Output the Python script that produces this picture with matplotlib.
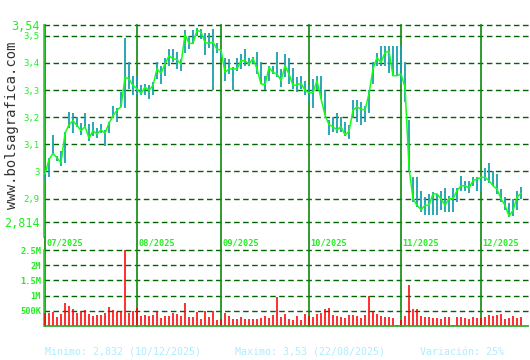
import numpy as np
import pandas as pd
import matplotlib
matplotlib.use('Agg')
import matplotlib.pyplot as plt

# daily data, 01/07/2025 .. 15/12/2025
closes = [2.990, 3.044, 3.066, 3.050, 3.032, 3.140, 3.172, 3.187, 3.169, 3.150,
          3.165, 3.123, 3.150, 3.138, 3.153, 3.141, 3.178, 3.205, 3.226, 3.238,
          3.347, 3.341, 3.317, 3.305, 3.287, 3.311, 3.299, 3.317, 3.378, 3.362,
          3.396, 3.426, 3.416, 3.412, 3.396, 3.505, 3.472, 3.472, 3.520, 3.515,
          3.475, 3.472, 3.477, 3.450, 3.448, 3.365, 3.378, 3.378, 3.378, 3.408,
          3.408, 3.396, 3.416, 3.378, 3.323, 3.319, 3.384, 3.365, 3.359, 3.335,
          3.390, 3.359, 3.317, 3.319, 3.325, 3.299, 3.290, 3.290, 3.335, 3.268,
          3.208, 3.172, 3.165, 3.153, 3.165, 3.135, 3.147, 3.226, 3.238, 3.230,
          3.226, 3.287, 3.378, 3.420, 3.402, 3.438, 3.444, 3.353, 3.353, 3.359,
          3.311, 3.014, 2.899, 2.875, 2.859, 2.875, 2.875, 2.917, 2.917, 2.899,
          2.875, 2.899, 2.899, 2.929, 2.947, 2.947, 2.939, 2.966, 2.972, 2.978,
          2.978, 2.966, 2.947, 2.935, 2.899, 2.875, 2.835, 2.856, 2.905, 2.919]
highs = [3.002, 3.050, 3.135, 3.056, 3.075, 3.147, 3.220, 3.214, 3.202, 3.180,
         3.214, 3.174, 3.184, 3.159, 3.174, 3.153, 3.184, 3.242, 3.232, 3.293,
         3.493, 3.402, 3.353, 3.353, 3.317, 3.323, 3.317, 3.329, 3.402, 3.390,
         3.420, 3.453, 3.453, 3.442, 3.414, 3.520, 3.499, 3.523, 3.530, 3.525,
         3.511, 3.511, 3.525, 3.475, 3.450, 3.420, 3.414, 3.384, 3.420, 3.432,
         3.453, 3.420, 3.423, 3.442, 3.402, 3.353, 3.390, 3.390, 3.442, 3.378,
         3.432, 3.420, 3.380, 3.347, 3.351, 3.335, 3.317, 3.341, 3.351, 3.351,
         3.299, 3.190, 3.202, 3.214, 3.199, 3.184, 3.172, 3.262, 3.262, 3.256,
         3.242, 3.299, 3.402, 3.438, 3.462, 3.462, 3.462, 3.462, 3.462, 3.462,
         3.402, 3.190, 2.978, 2.978, 2.927, 2.905, 2.917, 2.923, 2.917, 2.927,
         2.939, 2.911, 2.939, 2.939, 2.984, 2.963, 2.966, 2.978, 2.981, 2.980,
         3.014, 3.032, 3.002, 2.992, 2.935, 2.905, 2.883, 2.899, 2.927, 2.942]
lows = [2.972, 2.980, 3.062, 3.038, 3.020, 3.030, 3.159, 3.141, 3.165, 3.135,
        3.159, 3.111, 3.129, 3.123, 3.141, 3.093, 3.141, 3.196, 3.184, 3.238,
        3.232, 3.305, 3.281, 3.281, 3.281, 3.281, 3.268, 3.281, 3.341, 3.323,
        3.353, 3.390, 3.402, 3.378, 3.372, 3.438, 3.450, 3.468, 3.499, 3.487,
        3.429, 3.456, 3.301, 3.438, 3.420, 3.335, 3.359, 3.299, 3.372, 3.378,
        3.390, 3.390, 3.396, 3.359, 3.323, 3.301, 3.335, 3.359, 3.347, 3.311,
        3.347, 3.323, 3.305, 3.293, 3.305, 3.281, 3.256, 3.232, 3.299, 3.268,
        3.208, 3.133, 3.147, 3.141, 3.147, 3.129, 3.121, 3.196, 3.184, 3.172,
        3.181, 3.214, 3.323, 3.390, 3.390, 3.390, 3.363, 3.353, 3.350, 3.323,
        3.256, 3.002, 2.887, 2.869, 2.850, 2.838, 2.838, 2.838, 2.838, 2.856,
        2.850, 2.850, 2.850, 2.887, 2.929, 2.929, 2.919, 2.947, 2.929, 2.923,
        2.966, 2.957, 2.947, 2.917, 2.887, 2.856, 2.832, 2.835, 2.856, 2.899]
# volume in millions
volumes = [0.44, 0.44, 0.47, 0.30, 0.39, 0.76, 0.66, 0.56, 0.44, 0.49,
           0.52, 0.39, 0.34, 0.36, 0.36, 0.44, 0.63, 0.52, 0.47, 0.49,
           2.50, 0.44, 0.49, 0.58, 0.34, 0.36, 0.34, 0.36, 0.49, 0.26,
           0.34, 0.34, 0.44, 0.39, 0.34, 0.76, 0.30, 0.30, 0.46, 0.23,
           0.49, 0.30, 0.49, 0.20, 0.23, 0.44, 0.34, 0.23, 0.23, 0.30,
           0.23, 0.23, 0.23, 0.23, 0.27, 0.33, 0.26, 0.36, 0.95, 0.30,
           0.39, 0.23, 0.20, 0.33, 0.20, 0.39, 0.33, 0.30, 0.39, 0.43,
           0.56, 0.59, 0.36, 0.33, 0.30, 0.26, 0.36, 0.36, 0.33, 0.26,
           0.36, 0.99, 0.46, 0.39, 0.33, 0.30, 0.30, 0.26, 0.03, 0.20,
           0.33, 1.35, 0.56, 0.56, 0.33, 0.30, 0.30, 0.26, 0.26, 0.23,
           0.30, 0.30, 0.03, 0.30, 0.30, 0.26, 0.23, 0.30, 0.26, 0.26,
           0.30, 0.36, 0.33, 0.36, 0.39, 0.23, 0.26, 0.33, 0.26, 0.30]

price_ticks = [2.814, 2.9, 3.0, 3.1, 3.2, 3.3, 3.4, 3.5, 3.54]
price_labels = ['2,814', '2,9', '3', '3,1', '3,2', '3,3', '3,4', '3,5', '3,54']
vol_ticks = [0.5, 1.0, 1.5, 2.0, 2.5]
vol_labels = ['500K', '1M', '1.5M', '2M', '2.5M']

minimo = 'Minimo: 2,832 (10/12/2025)'
maximo = 'Maximo: 3,53 (22/08/2025)'
variacion = 'Variación: 25%'

dates = pd.bdate_range('2025-07-01', periods=len(closes))
x = np.arange(len(closes))
# first trading day of each month
month_idx = [i for i in range(len(dates)) if i == 0 or dates[i].month != dates[i - 1].month]
month_labels = [dates[i].strftime('%m/%Y') for i in month_idx]

# colours
c_grid = '#006400'
c_month = '#0a8a0a'
c_text = '#22ee22'
c_bar = '#1aa0b0'
c_line = '#11ff11'
c_vol = '#ff0000'
c_foot = '#aaeeff'
mono = 'DejaVu Sans Mono'

W, H = 530, 360
fig = plt.figure(figsize=(W / 100, H / 100), dpi=100)
fig.patch.set_facecolor('white')


def px_axes(x0, y0, x1, y1):
    # axes placed in pixel coords (origin top-left)
    return fig.add_axes([x0 / W, 1 - y1 / H, (x1 - x0) / W, (y1 - y0) / H])


xlim = (-0.25, 121)

# price panel
ax = px_axes(44, 22, 529, 237)
ppx = 275.0  # pixels per 1.0 of price
ax.set_ylim(3.54 - 215 / ppx, 3.54 + 3 / ppx)
ax.set_xlim(*xlim)
for v in price_ticks:
    ax.axhline(v, color=c_grid, lw=1.0, ls=(0, (4, 2.5)), zorder=1)
for i in month_idx:
    ax.plot([i, i], [ax.get_ylim()[0], 3.54], color=c_month, lw=1.2, zorder=2)
ax.vlines(x, lows, highs, color=c_bar, lw=1.3, zorder=3)
ax.plot(x, closes, color=c_line, lw=1.1, zorder=4)
for s in ['top', 'right', 'bottom']:
    ax.spines[s].set_visible(False)
ax.spines['left'].set_color('#33cc33')
ax.spines['left'].set_linewidth(1.2)
ax.spines['left'].set_bounds(ax.get_ylim()[0], 3.54)
ax.set_xticks([])
ax.set_yticks(price_ticks)
ax.set_yticklabels(price_labels)
ax.tick_params(axis='y', length=0, pad=3, labelcolor=c_text, labelsize=6.5)
for lab in ax.get_yticklabels():
    lab.set_family(mono)
    if lab.get_text() in ('3,54', '2,814'):
        lab.set_fontsize(8.5)
ax.patch.set_alpha(0)

# volume panel
av = px_axes(44, 237, 529, 327)
vpx = 30.4  # pixels per million
av.set_ylim(-1 / vpx, 89 / vpx)
av.set_xlim(*xlim)
for v in vol_ticks:
    av.axhline(v, color=c_grid, lw=1.0, ls=(0, (4, 2.5)), zorder=1)
for i, lab in zip(month_idx, month_labels):
    av.plot([i, i], [0, av.get_ylim()[1]], color=c_month, lw=1.2, zorder=2)
    av.text(i + 0.3, (326 - 243) / vpx, lab, color=c_text, fontsize=6.2,
            family=mono, fontweight='bold', ha='left', va='center', zorder=5)
av.vlines(x, 0, volumes, color=c_vol, lw=1.15, zorder=3)
av.axhline(0, color='#22aa22', lw=1.2, zorder=4)
for s in ['top', 'right', 'bottom']:
    av.spines[s].set_visible(False)
av.spines['left'].set_color('#33cc33')
av.spines['left'].set_linewidth(1.2)
av.spines['left'].set_bounds(0, 2.5)
av.set_xticks([])
av.set_yticks(vol_ticks)
av.set_yticklabels(vol_labels)
av.tick_params(axis='y', length=0, pad=2, labelcolor=c_text, labelsize=6.3)
for lab in av.get_yticklabels():
    lab.set_family(mono)
    lab.set_fontweight('bold')
av.patch.set_alpha(0)

# watermark
fig.text(12 / W, 1 - 125 / H, 'www.bolsagrafica.com', rotation=90, family=mono,
         fontsize=10, color='#333333', ha='center', va='center')

# footer
for xp, s in [(45, minimo), (235, maximo), (420, variacion)]:
    fig.text(xp / W, 1 - 352 / H, s, family=mono, fontsize=7.2, color=c_foot,
             ha='left', va='center')

fig.savefig('out.png', dpi=100)
